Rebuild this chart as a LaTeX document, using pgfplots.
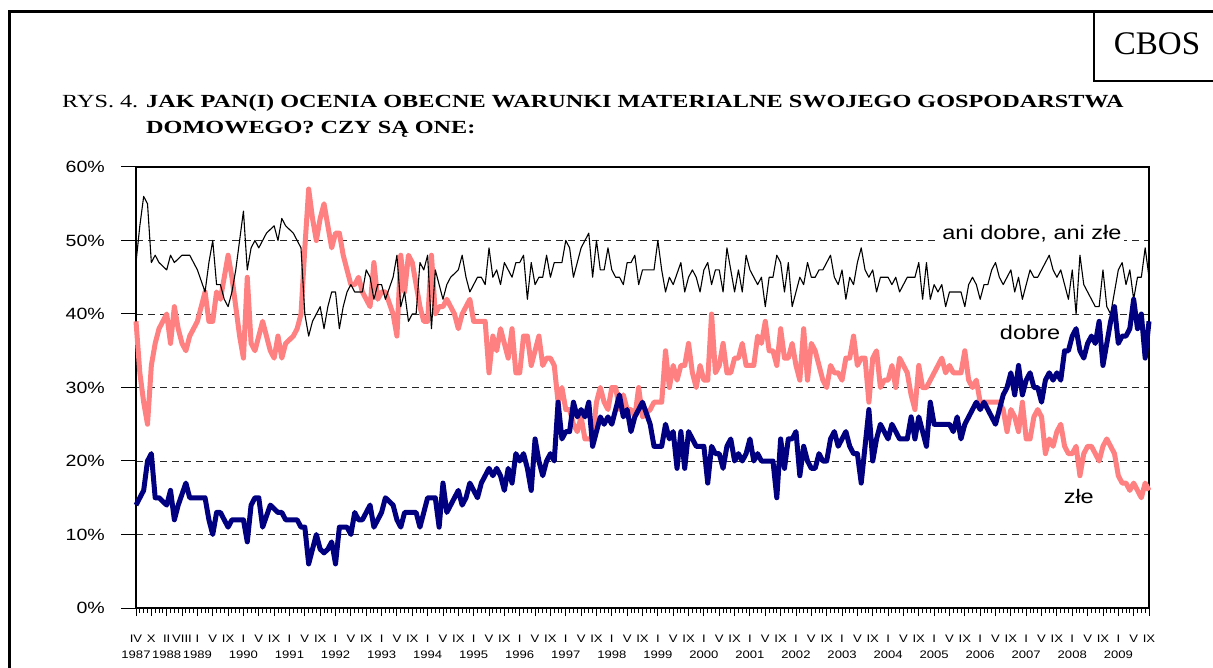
\documentclass[border=0pt]{standalone}
\usepackage{pgfplots}
\pgfplotsset{compat=1.18}
\usepackage{pgfplotstable}
\usepackage{fontspec}
\setmainfont{Liberation Serif}
\newfontfamily\arialw[FakeStretch=1.2]{Liberation Sans}
\newfontfamily\timesw[FakeStretch=1.31]{Liberation Serif}
\definecolor{zle}{RGB}{255,128,128}
\definecolor{dobre}{RGB}{0,0,128}

% i = kolejny pomiar (IV 1987 ... IX 2009)
\pgfplotstableread{
i ani zle dobre
0 47 39 14
1 52 32 15
2 56 28 16
3 55 25 20
4 47 33 21
5 48 36 15
6 47 38 15
7 46.5 39 14.5
8 46 40 14
9 48 36 16
10 47 41 12
11 47.5 38 14
12 48 36 15.5
13 48 35 17
14 48 37 15
15 47 38 15
16 46 39 15
17 44.5 41 15
18 43 43 15
19 47 39 12
20 50 39 10
21 44 43 13
22 44 42 13
23 42 45 12
24 41 48 11
25 43 45 12
26 46 41 12
27 50 37 12
28 54 34 12
29 46 45 9
30 49 36 14
31 50 35 15
32 49 37 15
33 50 39 11
34 51 37 12.5
35 51.5 35 14
36 52 34 13.5
37 50 37 13
38 53 34 13
39 52 36 12
40 51.5 36.5 12
41 51 37 12
42 50 38 12
43 49 40 11
44 40 49 11
45 37 57 6
46 39 53 8
47 40 50 10
48 41 53 8
49 38 55 7.5
50 41 52 8
51 43 49 9
52 43 51 6
53 38 51 11
54 41 48 11
55 43 46 11
56 44 44 10
57 43 44 13
58 43 45 12
59 43 43 12
60 46 42 13
61 45 41 14
62 42 47 11
63 44 42 12
64 44 43 13
65 42 43 15
66 43.5 41.5 14.5
67 45 40 14
68 48 37 12
69 41 48 11
70 43 43 13
71 39 48 13
72 40 47 13
73 40 44 13
74 47 41 11
75 46 39 13
76 48 39 15
77 38 48 15
78 46 40 15
79 44 41 11
80 42 41 17
81 44 42 13
82 45 41 14
83 45.5 40 15
84 46 38 16
85 48 40 14
86 45 41 15
87 43 42 17
88 44 39 16
89 45 39 15
90 45 39 17
91 44 39 18
92 49 32 19
93 45 37 18
94 46 35 19
95 44 38 18
96 47 36 16
97 46 34 19
98 45 38 17
99 47 32 21
100 47 32 20
101 48 37 21
102 42 37 19
103 47 33 16
104 44 35 23
105 45 37 20
106 45 33 18
107 48 34 20
108 45 34 21
109 47 33 20
110 47 28 28
111 47 30 23
112 50 27 24
113 49 27 24
114 45 25 28
115 47 24 26
116 49 26 27
117 50 23 26
118 51 23 28
119 45 23 22
120 50 28 24
121 46 30 26
122 46 28 25
123 49 27 26
124 46 30 25
125 45 30 27
126 45 27 29
127 44 29 26
128 47 27 27
129 47 27 24
130 48 26 26
131 44 30 27
132 46 26 28
133 46 26.5 26.5
134 46 27 25
135 46 28 22
136 50 28 22
137 46 28 22
138 43 35 25
139 45 30 23
140 44 33 24
141 45.5 31 19
142 47 33 24
143 43 33 19
144 45 36 24
145 46 32 23
146 45 30 22
147 43 33 22
148 46 31 22
149 47 31 17
150 44 40 22
151 46 32 21
152 46 33 21
153 43 36 19
154 49 32 22
155 46 32 23
156 43 34 20
157 46 34 21
158 43 36 20
159 48 33 21
160 46 33 23
161 45 33 20
162 44 37 21
163 45 36 20
164 41 39 20
165 45 35 20
166 45 35 20
167 48 33 15
168 47 38 23
169 43 34 19
170 47 34 23
171 41 36 23
172 43 33 24
173 45 31 18
174 44 38 22
175 47 31 20
176 45 36 19
177 45 35 19
178 46 33 21
179 46 31 20
180 47 30 20
181 48 33 23
182 45 32 24
183 44 32 22
184 46 31 23
185 42 34 24
186 45 34 22
187 44 37 21
188 47 33 21
189 49 34 17
190 46 34 22
191 45 28 27
192 46 34 20
193 43 35 23
194 45 30 25
195 45 31 24
196 45 31 23
197 44 33 25
198 45 30 24
199 43 34 23
200 44 33 23
201 45 32 23
202 45 29 26
203 45 27 23
204 47 33 26
205 42 30 24
206 47 30 22
207 42 31 28
208 44 32 25
209 43 33 25
210 44 34 25
211 41 32 25
212 43 33 25
213 43 32 24
214 43 32 26
215 43 32 23
216 41 35 25
217 44 31 26
218 45 30 27
219 44 31 28
220 42 28 27
221 44 28 28
222 44 28 27
223 46 28 26
224 47 28 25
225 45 28 27
226 44 27 29
227 45 24 30
228 46 27 32
229 43 26 29
230 45 24 33
231 42 28 29
232 44 23 31
233 46 23 32
234 45 26 30
235 45 27 30
236 46 26 28
237 47 21 31
238 48 23 32
239 46 22 31
240 45 24 32
241 46 25 31
242 44 22 35
243 42 21 35
244 46 21 37
245 40 22 38
246 48 18 35
247 44 21 34
248 43 22 36
249 42 22 37
250 41 21 36
251 41 20 39
252 46 22 33
253 41 23 36
254 40 22 39
255 43 21 41
256 46 18 36
257 47 17 37
258 44 17 37
259 46 16 38
260 42 17 42
261 45 16 38
262 45 15 40
263 49 17 34
264 45 16 39
}\dane

\begin{document}
\begin{tikzpicture}[x=1pt,y=1pt]
\path[use as bounding box] (0,0) rectangle (1213,667);

% ramka strony i pole CBOS
\draw[line width=2.7pt] (9.3,-3) -- (9.3,655.7) -- (1216,655.7);
\draw[line width=2pt] (1094,655.7) -- (1094,586) -- (1216,586);
\node[anchor=base, inner sep=0] at (1157,612) {\fontsize{33}{36}\selectfont CBOS};

% tytul
\node[anchor=base west, inner sep=0] at (62,559.7)
  {\timesw\fontsize{18.5}{20}\selectfont RYS. 4.};
\node[anchor=base west, inner sep=0] at (146,559.7)
  {\timesw\bfseries\fontsize{18.5}{20}\selectfont JAK PAN(I) OCENIA OBECNE WARUNKI MATERIALNE SWOJEGO GOSPODARSTWA};
\node[anchor=base west, inner sep=0] at (146,533)
  {\timesw\bfseries\fontsize{18.5}{20}\selectfont DOMOWEGO? CZY SĄ ONE:};

% kreski podzialki osi y
\foreach \k in {0,...,6}
  \draw[line width=1pt] (121,59+73.5*\k) -- (136,59+73.5*\k);

\begin{axis}[
    at={(136pt,59pt)}, anchor=south west,
    scale only axis,
    width=1013pt, height=441pt,
    xmin=0, xmax=264,
    ymin=0, ymax=60,
    axis line style={black, line width=1.3pt},
    tick align=outside,
    xtick pos=bottom, ytick pos=left,
    xtick={0,4,...,264},
    minor x tick num=3,
    major tick length=8pt,
    minor tick length=4.5pt,
    every tick/.style={black, line width=0.9pt},
    xticklabels={{IV\\1987},X,{II\\1988},VIII,{I\\1989},V,IX,{I\\1990},V,IX,{I\\1991},V,IX,{I\\1992},V,IX,{I\\1993},V,IX,{I\\1994},V,IX,{I\\1995},V,IX,{I\\1996},V,IX,{I\\1997},V,IX,{I\\1998},V,IX,{I\\1999},V,IX,{I\\2000},V,IX,{I\\2001},V,IX,{I\\2002},V,IX,{I\\2003},V,IX,{I\\2004},V,IX,{I\\2005},V,IX,{I\\2006},V,IX,{I\\2007},V,IX,{I\\2008},V,IX,{I\\2009},V,IX},
    xticklabel style={font=\arialw\fontsize{10.9}{16}\selectfont, align=center, inner sep=0pt, yshift=-19pt},
    ytick={0,10,...,60},
    ytick style={draw=none},
    yticklabels={0\%,10\%,20\%,30\%,40\%,50\%,60\%},
    yticklabel style={font=\arialw\fontsize{16.3}{19}\selectfont, inner sep=0pt, xshift=-23pt},
    ymajorgrids,
    grid style={black!85, line width=1pt, dash pattern=on 7pt off 5pt},
    clip=false,
]
\addplot[zle, line width=5pt, line join=round] table[x=i, y=zle] {\dane};
\addplot[black, line width=1.1pt, line join=round] table[x=i, y=ani] {\dane};
\addplot[dobre, line width=5pt, line join=round] table[x=i, y=dobre] {\dane};

\node[anchor=base, fill=white, inner sep=2pt, font=\arialw\fontsize{19.6}{22}\selectfont]
  at (axis cs:233.5,50.1) {ani dobre, ani złe};
\node[anchor=base, font=\arialw\fontsize{19.6}{22}\selectfont]
  at (axis cs:233,36.5) {dobre};
\node[anchor=base, font=\arialw\fontsize{19.6}{22}\selectfont]
  at (axis cs:245.7,14.2) {złe};
\end{axis}
\end{tikzpicture}
\end{document}
